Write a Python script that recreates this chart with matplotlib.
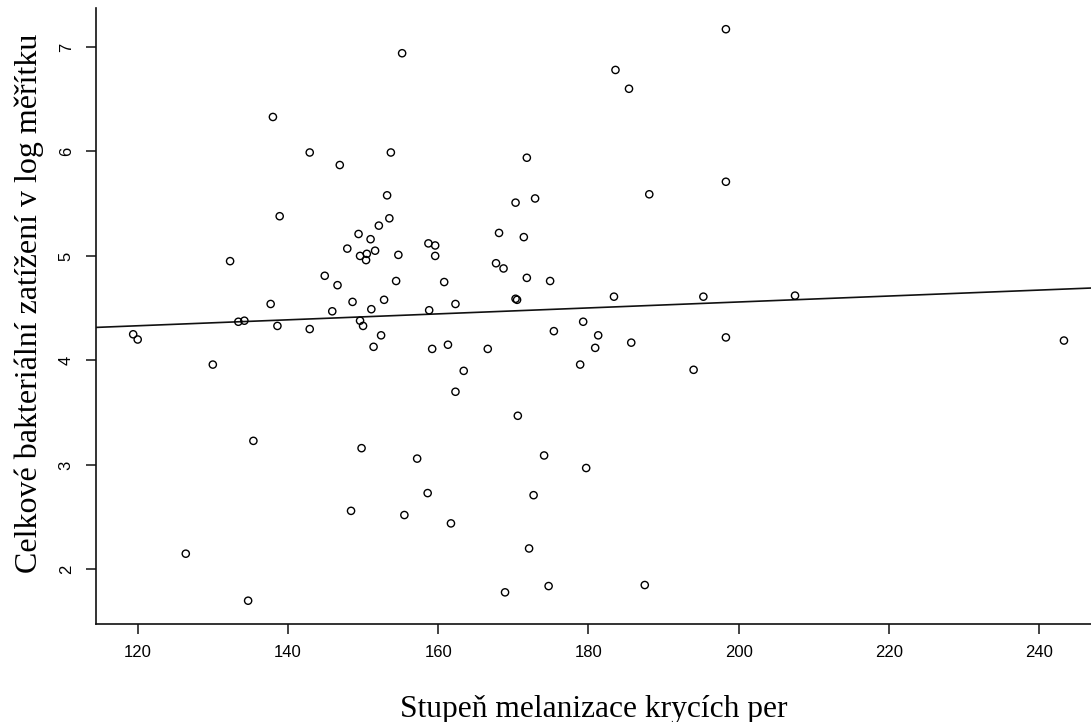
import numpy as np
import matplotlib
matplotlib.use("Agg")
import matplotlib.pyplot as plt

# values
melanizace = [
    119.4, 120.0, 126.4, 130.0, 132.3, 133.4, 134.2, 134.7, 135.4, 137.7,
    138.0, 138.6, 138.9, 142.9, 142.9, 144.9, 145.9, 146.6, 146.9, 147.9,
    148.4, 148.6, 149.4, 149.6, 149.6, 149.8, 150.0, 150.4, 150.5, 151.0,
    151.1, 151.4, 151.6, 152.1, 152.4, 152.8, 153.2, 153.5, 153.7, 154.4,
    154.7, 155.2, 155.5, 157.2, 158.6, 158.7, 158.8, 159.2, 159.6, 159.6,
    160.8, 161.3, 161.7, 162.3, 162.3, 163.4, 166.6, 167.7, 168.1, 168.7,
    168.9, 170.3, 170.3, 170.5, 170.6, 171.4, 171.8, 171.8, 172.1, 172.7,
    172.9, 174.1, 174.7, 174.9, 175.4, 178.9, 179.3, 179.7, 180.9, 181.3,
    183.4, 183.6, 185.4, 185.7, 187.5, 188.1, 194.0, 195.3, 198.3, 198.3,
    198.3, 207.5, 243.3,
]
zatizeni = [
    4.25, 4.20, 2.15, 3.96, 4.95, 4.37, 4.38, 1.70, 3.23, 4.54,
    6.33, 4.33, 5.38, 5.99, 4.30, 4.81, 4.47, 4.72, 5.87, 5.07,
    2.56, 4.56, 5.21, 5.00, 4.38, 3.16, 4.33, 4.96, 5.02, 5.16,
    4.49, 4.13, 5.05, 5.29, 4.24, 4.58, 5.58, 5.36, 5.99, 4.76,
    5.01, 6.94, 2.52, 3.06, 2.73, 5.12, 4.48, 4.11, 5.10, 5.00,
    4.75, 4.15, 2.44, 4.54, 3.70, 3.90, 4.11, 4.93, 5.22, 4.88,
    1.78, 5.51, 4.59, 4.58, 3.47, 5.18, 5.94, 4.79, 2.20, 2.71,
    5.55, 3.09, 1.84, 4.76, 4.28, 3.96, 4.37, 2.97, 4.12, 4.24,
    4.61, 6.78, 6.60, 4.17, 1.85, 5.59, 3.91, 4.61, 7.17, 5.71,
    4.22, 4.62, 4.19,
]

# regression line (abline) coefficients
intercept = 3.990
slope = 0.002846

x_ticks = [120, 140, 160, 180, 200, 220, 240]
y_ticks = [2, 3, 4, 5, 6, 7]

fig = plt.figure(figsize=(10.91, 7.22), dpi=100)
ax = fig.add_axes([96 / 1091, 98 / 722, 995 / 1091, 616 / 722])

ax.scatter(melanizace, zatizeni, s=27, facecolors="none", edgecolors="black",
           linewidths=1.0, zorder=3)

xlim = (114.45, 246.9)
xl = np.array(xlim)
ax.plot(xl, intercept + slope * xl, color="#111111", lw=1.2)

ax.set_xlim(*xlim)
ax.set_ylim(1.477, 7.373)
ax.set_xticks(x_ticks)
ax.set_yticks(y_ticks)

for s in ["top", "right"]:
    ax.spines[s].set_visible(False)
for s in ["left", "bottom"]:
    ax.spines[s].set_linewidth(1.2)
    ax.spines[s].set_color("#111111")

ax.tick_params(axis="both", length=7, width=1.1, color="#111111",
               labelsize=12, labelcolor="black")
ax.tick_params(axis="x", pad=8)
ax.tick_params(axis="y", pad=9)
for lab in ax.get_xticklabels() + ax.get_yticklabels():
    lab.set_fontfamily("Liberation Sans")
for lab in ax.get_yticklabels():
    lab.set_rotation(90)
    lab.set_va("center")

fig.text(594 / 1091, 1 - 716.5 / 722, "Stupeň melanizace krycích per",
         family="Liberation Serif", fontsize=22.7, ha="center", va="baseline")
fig.text(29 / 1091, 1 - 303 / 722, "Celkové bakteriální zatížení v log měřítku",
         family="Liberation Serif", fontsize=23, ha="center", va="center",
         rotation=90)

fig.savefig("out.png", dpi=100)
